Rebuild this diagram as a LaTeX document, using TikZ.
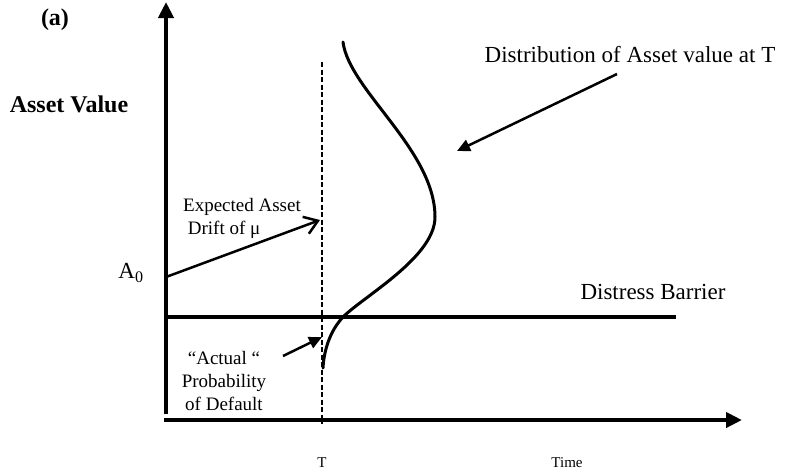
\documentclass[tikz,border=0pt]{standalone}
\usepackage{fontspec}
\setmainfont{Liberation Serif}
\usetikzlibrary{arrows.meta,positioning}
\tikzset{
	axis/.style={line width=4pt, -{Triangle[length=16pt,width=15pt]}},
	barrier/.style={line width=4.5pt},
	density/.style={line width=3pt, line cap=round},
	horizon/.style={line width=2pt, dash pattern=on 5pt off 2.5pt},
	pointer/.style={line width=2.5pt, -{Triangle[length=13pt,width=12pt]}},
	drift/.style={line width=2.5pt, -{Straight Barb[length=13pt,width=18pt]}},
	bigtext/.style={font=\fontsize{23}{26}\selectfont, inner sep=0pt},
	boldtext/.style={font=\bfseries\fontsize{24}{27}\selectfont, inner sep=0pt},
	smalltext/.style={font=\fontsize{19}{23}\selectfont, inner sep=0pt},
	ticktext/.style={font=\fontsize{15}{18}\selectfont, inner sep=0pt}
}
\begin{document}
\begin{tikzpicture}[x=1pt, y=-1pt]
	\useasboundingbox (0,0) rectangle (788,475);
	% axes
	\coordinate (ybot) at (166,414);
	\coordinate (ytop) at (166,2);
	\coordinate (xbeg) at (164,420);
	\coordinate (xend) at (742,420);
	\draw[axis] (ybot) -- (ytop);
	\draw[axis] (xbeg) -- (xend);
	% barrier
	\coordinate (bbeg) at (164,317);
	\coordinate (bend) at (676,317);
	\draw[barrier] (bbeg) -- (bend);
	% horizon T
	\coordinate (htop) at (322,62);
	\coordinate (hbot) at (322,424);
	\draw[horizon] (htop) -- (hbot);
	% density at T
	\coordinate (dtop) at (343,42);
	\coordinate (dpeak) at (435,217);
	\coordinate (dcross) at (343,317);
	\coordinate (dtail) at (323,368);
	\draw[density] (dtop) .. controls (349,90) and (435,150) .. (dpeak)
		.. controls (435,257) and (364,296) .. (dcross)
		.. controls (330,331) and (324,350) .. (dtail);
	% labels
	\node[boldtext] (panel) at (55,20) {(a)};
	\node[boldtext] (yaxis) at (69,104) {Asset Value};
	\node[bigtext] (azero) at (131,273) {A\textsubscript{0}};
	\node[bigtext] (dist) at (630,55) {Distribution of Asset value at T};
	\node[bigtext] (barlabel) at (653,292) {Distress Barrier};
	\node[smalltext, align=left] (drifttext) at (242,218) {Expected Asset\\\ Drift of μ};
	\node[smalltext, align=center] (pd) at (224,381) {“Actual “\\Probability\\of Default};
	\node[ticktext] (tlabel) at (322,463) {T};
	\node[ticktext] (time) at (567,463) {Time};
	% pointers
	\coordinate (driftstart) at (166,277);
	\coordinate (driftend) at (320,220);
	\draw[drift] (driftstart) -- (driftend);
	\coordinate (pdstart) at (283,356);
	\coordinate (pdend) at (322,337);
	\draw[pointer] (pdstart) -- (pdend);
	\coordinate (diststart) at (617,74);
	\coordinate (distend) at (457,151);
	\draw[pointer] (diststart) -- (distend);
\end{tikzpicture}
\end{document}
